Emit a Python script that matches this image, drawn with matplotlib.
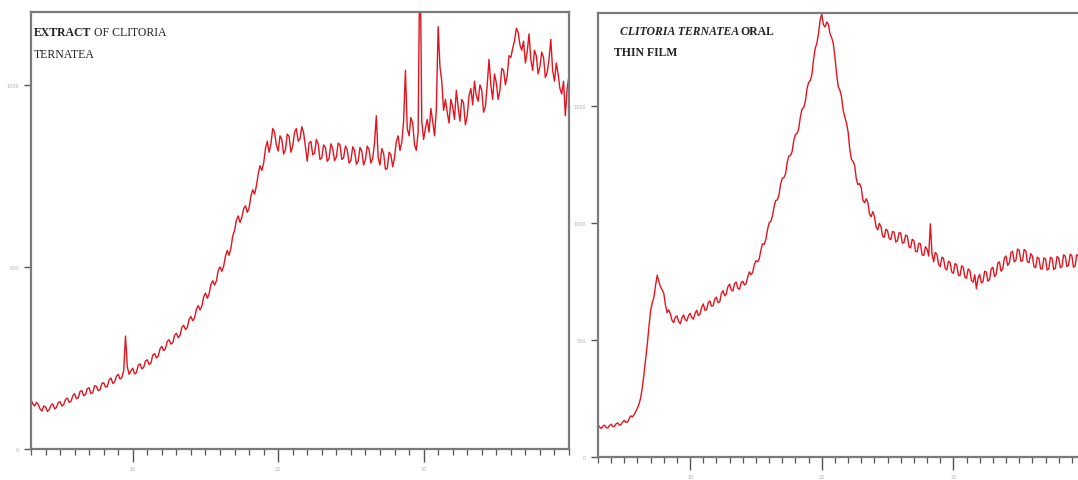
import numpy as np
import matplotlib
matplotlib.use("Agg")
import matplotlib.pyplot as plt

# ---------------- data ----------------
two_theta_start = 3.0
two_theta_step = 0.125

extract_counts = [
    135, 124, 118, 128, 122, 110, 104, 118, 116, 103, 108, 120, 124, 110, 114, 128,
    130, 118, 122, 136, 140, 128, 131, 146, 152, 138, 141, 158, 160, 146, 150, 166,
    168, 152, 155, 174, 172, 160, 163, 180, 182, 170, 172, 190, 195, 180, 184, 200,
    205, 192, 196, 215, 310, 225, 205, 215, 222, 206, 210, 230, 234, 220, 224, 242,
    245, 232, 236, 258, 262, 250, 255, 275, 282, 270, 276, 296, 300, 288, 292, 312,
    318, 306, 312, 334, 340, 328, 334, 356, 364, 352, 360, 384, 394, 382, 392, 418,
    428, 414, 426, 452, 462, 450, 462, 490, 500, 488, 502, 530, 545, 532, 552, 585,
    600, 628, 640, 622, 636, 660, 668, 650, 662, 695, 712, 700, 722, 755, 778, 765,
    785, 825, 845, 815, 838, 880, 870, 835, 818, 860, 850, 810, 822, 865, 858, 815,
    832, 870, 880, 845, 852, 885, 868, 830, 790, 840, 845, 808, 812, 850, 838, 795,
    800, 835, 828, 790, 798, 838, 825, 792, 802, 840, 835, 795, 800, 832, 822, 785,
    792, 830, 820, 782, 790, 828, 818, 780, 795, 832, 822, 785, 798, 840, 915, 800,
    780, 825, 812, 768, 770, 815, 808, 775, 800, 845, 860, 820, 842, 900, 1040, 880,
    860, 910, 895, 835, 820, 870, 1400, 900, 850, 880, 905, 870, 935, 900, 860, 930,
    1160, 1050, 1010, 930, 960, 925, 895, 960, 940, 905, 985, 940, 900, 960, 950, 890,
    915, 970, 990, 945, 1010, 970, 955, 1000, 985, 925, 940, 1000, 1070, 1000, 960, 1030,
    1005, 960, 985, 1045, 1040, 1000, 1025, 1080, 1075, 1100, 1120, 1155, 1145, 1110, 1095, 1120,
    1060, 1090, 1140, 1070, 1040, 1095, 1080, 1030, 1050, 1090, 1075, 1020, 1035, 1070, 1125, 1040,
    1010, 1060, 1030, 990, 975, 1010, 915, 990, 1025,
]

film_counts = [
    138, 128, 122, 132, 136, 126, 124, 135, 140, 130, 131, 142, 146, 136, 139, 150,
    157, 148, 150, 165, 176, 172, 182, 195, 210, 228, 255, 300, 358, 420, 485, 560,
    628, 660, 684, 735, 778, 750, 728, 715, 700, 650, 618, 630, 612, 585, 575, 598,
    604, 580, 570, 595, 608, 588, 582, 605, 615, 596, 590, 615, 628, 605, 612, 640,
    655, 628, 630, 660, 668, 645, 648, 676, 684, 660, 664, 700, 712, 690, 698, 730,
    740, 715, 710, 742, 748, 722, 718, 745, 752, 736, 742, 770, 792, 780, 790, 822,
    840, 835, 848, 885, 912, 910, 930, 972, 1002, 1008, 1030, 1070, 1098, 1100, 1122, 1168,
    1192, 1196, 1212, 1260, 1288, 1290, 1308, 1355, 1380, 1385, 1405, 1455, 1488, 1495, 1520, 1575,
    1602, 1610, 1636, 1700, 1748, 1770, 1810, 1870, 1895, 1850, 1840, 1862, 1852, 1812, 1795, 1770,
    1712, 1640, 1585, 1570, 1542, 1485, 1455, 1430, 1392, 1320, 1275, 1265, 1248, 1190, 1165, 1170,
    1152, 1100, 1088, 1105, 1090, 1040, 1028, 1050, 1030, 985, 972, 1000, 985, 945, 940, 975,
    968, 935, 930, 965, 962, 920, 925, 960, 958, 915, 918, 950, 945, 900, 895, 932,
    925, 880, 878, 915, 912, 865, 862, 900, 890, 860, 998, 870, 835, 875, 868, 825,
    815, 855, 850, 808, 800, 838, 832, 792, 786, 828, 822, 780, 775, 818, 812, 770,
    765, 805, 798, 755, 748, 780, 720, 765, 782, 745, 750, 795, 792, 752, 760, 805,
    812, 772, 782, 830, 835, 795, 805, 852, 860, 820, 830, 875, 880, 835, 842, 890,
    885, 838, 840, 888, 882, 835, 832, 870, 860, 815, 810, 855, 850, 805, 805, 852,
    848, 800, 805, 855, 850, 802, 808, 858, 852, 810, 815, 865, 860, 815, 820, 868,
    862, 812, 818, 866, 860, 815, 822, 862, 855,
]

extract_yticks = [0, 500, 1000]
extract_yticklabels = ["0", "500", "1000"]
film_yticks = [0, 500, 1000, 1500]
film_yticklabels = ["0", "500", "1000", "1500"]
xticks_major = [10, 20, 30]
xtick_labels = ["10", "20", "30"]

extract_x = two_theta_start + two_theta_step * np.arange(len(extract_counts))
film_x = two_theta_start + two_theta_step * np.arange(len(film_counts))

# ---------------- figure ----------------
W, H = 1078, 481
fig = plt.figure(figsize=(W / 100, H / 100), dpi=100)

def frac(x0, y0, x1, y1):
    return [x0 / W, 1 - y1 / H, (x1 - x0) / W, (y1 - y0) / H]

ax1 = fig.add_axes(frac(31, 13, 569, 450))
ax2 = fig.add_axes(frac(598, 14, 1085, 458))

line_color = "#e3141e"
spine_color = "#7a7a7a"
label_color = "#b0b0b0"

def style(ax):
    for s in ax.spines.values():
        s.set_color(spine_color)
        s.set_linewidth(1.6)
    ax.tick_params(axis="both", which="major", direction="out", color="#555555",
                   width=1.0, labelsize=3.5, labelcolor=label_color)
    ax.tick_params(axis="x", which="major", length=9)
    ax.tick_params(axis="y", which="major", length=5)
    ax.tick_params(axis="x", which="minor", direction="out", length=4,
                   width=0.9, color="#555555")
    ax.set_xticks(np.arange(3, 41, 1), minor=True)
    ax.set_xticks(xticks_major)
    ax.set_xticklabels(xtick_labels)

ax1.plot(extract_x, extract_counts, color=line_color, lw=1.0)
ax1.set_xlim(3, 40)
ax1.set_ylim(0, 1200)
style(ax1)
ax1.set_yticks(extract_yticks)
ax1.set_yticklabels(extract_yticklabels)

ax2.plot(film_x, film_counts, color=line_color, lw=1.0)
ax2.set_xlim(3, 40)
ax2.set_ylim(0, 1900)
style(ax2)
ax2.set_yticks(film_yticks)
ax2.set_yticklabels(film_yticklabels)

serif = "Liberation Serif"
# left panel title
t1 = ax1.text(0.005, 0.955, "EXTRACT", transform=ax1.transAxes, family=serif,
              fontsize=8.5, fontweight="bold", color="#222222", va="center", ha="left")
fig.canvas.draw()
bb = t1.get_window_extent()
x_after = ax1.transAxes.inverted().transform((bb.x1, 0))[0]
ax1.text(x_after + 0.006, 0.955, "OF CLITORIA", transform=ax1.transAxes, family=serif,
         fontsize=8.5, color="#222222", va="center", ha="left")
ax1.text(0.005, 0.905, "TERNATEA", transform=ax1.transAxes, family=serif,
         fontsize=8.5, color="#222222", va="center", ha="left")

# right panel title
t2 = ax2.text(0.045, 0.96, "CLITORIA TERNATEA", transform=ax2.transAxes, family=serif,
              fontsize=8.5, fontweight="bold", style="italic", color="#222222",
              va="center", ha="left")
fig.canvas.draw()
bb2 = t2.get_window_extent()
x2_after = ax2.transAxes.inverted().transform((bb2.x1, 0))[0]
ax2.text(x2_after + 0.003, 0.96, "ORAL", transform=ax2.transAxes, family=serif,
         fontsize=8.5, fontweight="bold", color="#222222", va="center", ha="left")
ax2.text(0.032, 0.912, "THIN FILM", transform=ax2.transAxes, family=serif,
         fontsize=8.5, fontweight="bold", color="#222222", va="center", ha="left")

fig.savefig("out.png", dpi=100)
